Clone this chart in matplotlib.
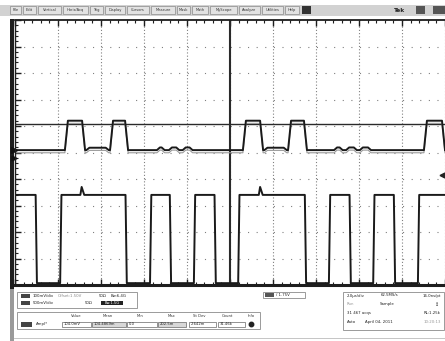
import numpy as np
import matplotlib.pyplot as plt
from matplotlib.patches import Rectangle
from matplotlib.ticker import MultipleLocator

# Channel 1 (units: graticule divisions)
ch1_base = 0.09
ch1_high = 1.20
ch1_pulses = [(1.16, 1.63), (2.21, 2.63), (5.30, 5.77), (6.35, 6.79), (9.51, 10.0)]
ch1_shelf = [(1.66, 2.18), (5.80, 6.32)]
ch1_shelf_level = 0.18
ch1_ripple = [(3.30, 3.48), (3.58, 3.82), (3.90, 4.13), (7.42, 7.62), (7.70, 7.95), (8.02, 8.28)]
ch1_ripple_level = 0.19
cursor_level = 1.08

# Channel 2
ch2_high = -1.60
ch2_low = -4.93
ch2_edges = [0.51, 1.05, 2.60, 3.14, 3.63, 4.16, 4.67, 5.19, 6.77, 7.30, 7.81, 8.33, 8.84, 9.37]
ch2_glitches = [1.55, 5.70]
trig_level = -0.85

menu_items = ["File", "Edit", "Vertical", "Horiz/Acq", "Trig", "Display", "Cursors",
              "Measure", "Mask", "Math", "MyScope", "Analyze", "Utilities", "Help"]
menu_edges = [9, 22, 37, 62, 89, 104, 126, 150, 176, 191, 209, 238, 261, 284, 300]

meas_header = ["Value", "Mean", "Min", "Max", "St Dev", "Count", "Info"]
meas_values = ["104.0mV", "104.4869m", "0.0", "202.5m", "2.642m", "31.46k"]


def pulse_trace(segments, base, rise):
    xs, ys = [0.0], [base]
    for x0, x1, lvl in sorted(segments):
        xs += [x0, x0 + rise, x1 - rise, x1]
        ys += [base, lvl, lvl, base]
    if xs[-1] < 10.0:
        xs.append(10.0)
        ys.append(base)
    return np.array(xs), np.array(ys)


fig = plt.figure(figsize=(4.45, 3.41), dpi=100)

# screen chrome in pixel coordinates
ui = fig.add_axes([0, 0, 1, 1])
ui.set_xlim(0, 445)
ui.set_ylim(341, 0)
ui.axis('off')

ui.add_patch(Rectangle((0, 4.5), 445, 11, facecolor='#d2d2d2', edgecolor='none'))
for name, a, b in zip(menu_items, menu_edges[:-1], menu_edges[1:]):
    ui.add_patch(Rectangle((a + 0.5, 6), b - a - 1.5, 8, facecolor='#e2e2e2',
                           edgecolor='#8a8a8a', lw=0.5))
    ui.text((a + b) / 2, 10.2, name, fontsize=2.6, ha='center', va='center', color='#333')
ui.add_patch(Rectangle((302, 6), 9, 8, facecolor='#333', edgecolor='none'))
ui.text(400, 10.2, "Tek", fontsize=4.2, fontweight='bold', ha='center', va='center', color='#222')
ui.add_patch(Rectangle((416, 6), 9, 8, facecolor='#555', edgecolor='none'))
ui.add_patch(Rectangle((433, 6), 12, 8, facecolor='#555', edgecolor='none'))

# left channel strip
ui.add_patch(Rectangle((9.5, 19), 4.5, 270, facecolor='#1e1e1e', edgecolor='none'))
ui.add_patch(Rectangle((10, 289), 3.5, 52, facecolor='#9a9a9a', edgecolor='none'))

# vertical settings box
ui.add_patch(Rectangle((17, 291.5), 120, 16, facecolor='white', edgecolor='#8a8a8a', lw=0.6))
ui.add_patch(Rectangle((21, 293.5), 9, 4, facecolor='#444', edgecolor='none'))
ui.add_patch(Rectangle((21, 300.5), 9, 4, facecolor='#444', edgecolor='none'))
ui.text(33, 295.6, "100mV/div", fontsize=2.8, va='center', color='#222')
ui.text(58, 295.6, "Offset:1.50V", fontsize=2.8, va='center', color='#888')
ui.text(99, 295.6, "50\u03a9", fontsize=2.8, va='center', color='#222')
ui.text(111, 295.6, "Bw:6.4G", fontsize=2.8, va='center', color='#222')
ui.text(33, 302.6, "500mV/div", fontsize=2.8, va='center', color='#222')
ui.text(85, 302.6, "50\u03a9", fontsize=2.8, va='center', color='#222')
ui.add_patch(Rectangle((101, 300.5), 22, 4.5, facecolor='#222', edgecolor='none'))
ui.text(112, 302.7, "Bw:1.5G", fontsize=2.6, ha='center', va='center', color='white')

# trigger readout
ui.add_patch(Rectangle((263, 291.5), 42, 6.5, facecolor='white', edgecolor='#8a8a8a', lw=0.6))
ui.add_patch(Rectangle((264.5, 293), 9, 4, facecolor='#555', edgecolor='none'))
ui.text(276, 294.8, "/ 1.75V", fontsize=2.8, va='center', color='#222')

# measurement table
ui.add_patch(Rectangle((17, 312), 243, 16.5, facecolor='white', edgecolor='#8a8a8a', lw=0.6))
head_x = [76, 108, 140, 172, 199, 227, 251]
for h, x in zip(meas_header, head_x):
    ui.text(x, 316, h, fontsize=2.7, ha='center', va='center', color='#333')
ui.add_patch(Rectangle((21, 322), 11, 4.5, facecolor='#444', edgecolor='none'))
ui.text(36, 324.3, "Ampl*", fontsize=2.8, va='center', color='#222')
cell_x = [(62, 91), (92, 126), (127, 157), (158, 186), (189, 216), (218, 245)]
cell_fill = ['white', '#d8d8d8', 'white', '#d8d8d8', 'white', 'white']
for v, (a, b), fc in zip(meas_values, cell_x, cell_fill):
    ui.add_patch(Rectangle((a, 321.5), b - a, 5.5, facecolor=fc, edgecolor='#666', lw=0.5))
    ui.text(a + 2, 324.3, v, fontsize=2.7, va='center', color='#222')
ui.plot([251], [324.3], marker='o', ms=3.2, color='#222')

# horizontal / acquisition box
ui.add_patch(Rectangle((343, 291.5), 101, 38, facecolor='white', edgecolor='#8a8a8a', lw=0.6))
ui.text(347, 295.5, "2.0\u00b5s/div", fontsize=2.8, va='center', color='#222')
ui.text(381, 295.5, "62.5MS/s", fontsize=2.8, va='center', color='#222')
ui.text(441, 295.5, "16.0ns/pt", fontsize=2.8, ha='right', va='center', color='#222')
ui.text(347, 304, "Run", fontsize=2.8, va='center', color='#999')
ui.text(380, 304, "Sample", fontsize=2.8, va='center', color='#222')
ui.text(439, 304, "\u2195", fontsize=3.5, ha='right', va='center', color='#222')
ui.text(347, 313, "31 467 acqs", fontsize=2.8, va='center', color='#222')
ui.text(441, 313, "RL:1.25k", fontsize=2.8, ha='right', va='center', color='#222')
ui.text(347, 322, "Auto", fontsize=2.8, va='center', color='#222')
ui.text(365, 322, "April 04, 2011", fontsize=2.8, va='center', color='#222')
ui.text(441, 322, "10:20:13", fontsize=2.8, ha='right', va='center', color='#999')
ui.plot([14, 445], [338, 338], color='#bbbbbb', lw=0.6)

# graticule
ax = fig.add_axes([15 / 445, 56 / 341, 430 / 445, 265 / 341])
ax.set_xlim(0, 10)
ax.set_ylim(-5, 5)
ax.set_xticks(np.arange(0, 11))
ax.set_yticks(np.arange(-5, 6))
ax.xaxis.set_minor_locator(MultipleLocator(0.2))
ax.yaxis.set_minor_locator(MultipleLocator(0.2))
ax.tick_params(which='both', direction='in', top=True, bottom=True, left=True, right=False,
               labelbottom=False, labelleft=False, color='#1e1e1e')
ax.tick_params(which='major', length=4.5, width=1.0)
ax.tick_params(which='minor', length=2.5, width=0.8)
ax.grid(axis='x', color='#808080', lw=0.8, linestyle=(0, (1, 1.9)))
ax.grid(axis='y', color='#808080', lw=0.8, linestyle=(0, (1, 6.75)))
ax.set_axisbelow(True)
ax.spines['right'].set_visible(False)
ax.spines['top'].set_linewidth(1.3)
ax.spines['bottom'].set_linewidth(2.2)
ax.spines['left'].set_linewidth(1.0)
for s in ax.spines.values():
    s.set_color('#1e1e1e')

ax.axvline(5, color='#2a2a2a', lw=1.5)
ax.axhline(cursor_level, color='#2a2a2a', lw=1.0)

# channel 1 trace
segs = [(a, b, ch1_high) for a, b in ch1_pulses]
segs += [(a, b, ch1_shelf_level) for a, b in ch1_shelf]
segs += [(a, b, ch1_ripple_level) for a, b in ch1_ripple]
x1, y1 = pulse_trace(segs, ch1_base, 0.07)
ax.plot(x1, y1 - 0.1, color='#9a9a9a', lw=0.8)
ax.plot(x1, y1, color='#1a1a1a', lw=1.4)

# channel 2 trace
bounds = [0.0] + ch2_edges + [10.0]
segs2 = [(bounds[i], bounds[i + 1], ch2_high) for i in range(0, len(bounds) - 1, 2)]
x2, y2 = [], []
for i, (a, b, lvl) in enumerate(segs2):
    ra = 0.0 if a == 0.0 else 0.03
    rb = 0.0 if b == 10.0 else 0.03
    x2 += [a, a + ra, b - rb, b]
    y2 += [ch2_low if ra else lvl, lvl, lvl, ch2_low if rb else lvl]
for g in ch2_glitches:
    x2 += [g - 0.03, g, g + 0.06]
    y2 += [ch2_high, ch2_high + 0.3, ch2_high]
order = np.argsort(x2, kind='stable')
ax.plot(np.array(x2)[order], np.array(y2)[order], color='#1a1a1a', lw=1.4)

# channel and trigger markers
ax.plot([-0.02], [ch1_base], marker='>', ms=4, color='#111', clip_on=False)
ax.plot([-0.02], [ch1_base - 0.3], marker='>', ms=3.5, color='#111', clip_on=False)
ax.plot([9.93], [trig_level], marker='<', ms=3.5, color='#222', clip_on=False)

fig.savefig('out.png', dpi=100)
